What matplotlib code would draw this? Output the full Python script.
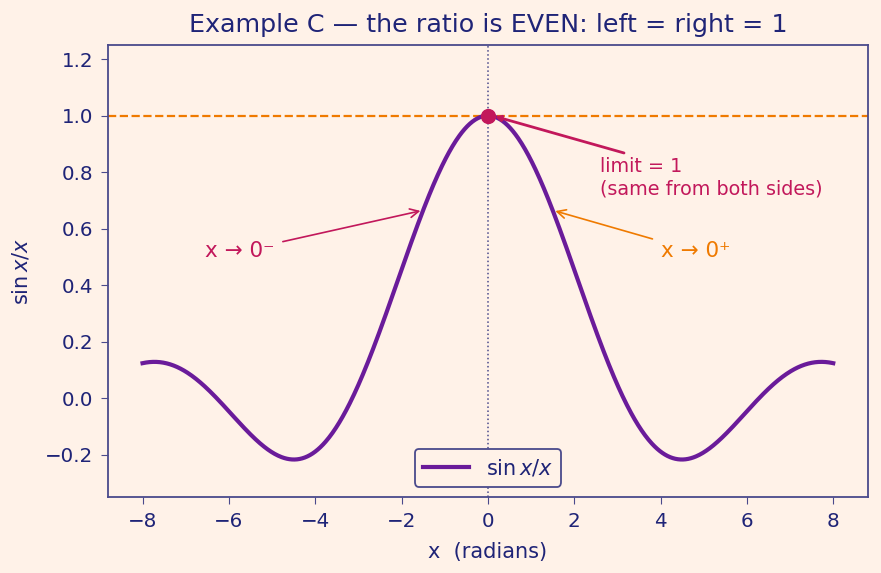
import numpy as np
import matplotlib.pyplot as plt

# chart content
X_RANGE = (-8.0, 8.0)
LIMIT_VALUE = 1.0
LEFT_ARROW_X = -1.5
RIGHT_ARROW_X = 1.5
LEFT_TEXT_POS = (-6.55, 0.52)
RIGHT_TEXT_POS = (4.0, 0.52)
LIMIT_TEXT_POS = (2.6, 0.78)
X_TICKS = [-8, -6, -4, -2, 0, 2, 4, 6, 8]
Y_TICKS = [-0.2, 0.0, 0.2, 0.4, 0.6, 0.8, 1.0, 1.2]

BG = '#FFF2E8'
NAVY = '#1F2477'
SPINE = '#4A4A8C'
PURPLE = '#6A1B9A'
ORANGE = '#EF7A00'
CRIMSON = '#C2185B'


def ratio(x):
    # the plotted function, sin x / x (limit 1 at x = 0)
    return np.sinc(np.asarray(x) / np.pi)


x = np.linspace(X_RANGE[0], X_RANGE[1], 801)
y = ratio(x)

fig, ax = plt.subplots(figsize=(8.81, 5.73), dpi=100)
fig.patch.set_facecolor(BG)
ax.set_facecolor(BG)

ax.axhline(LIMIT_VALUE, color=ORANGE, ls='--', lw=1.6, zorder=1)
ax.axvline(0, color=SPINE, ls=':', lw=1.1, zorder=1)
ax.plot(x, y, color=PURPLE, lw=3, label=r'$\sin x/x$', zorder=3)
ax.plot([0], [LIMIT_VALUE], 'o', color=CRIMSON, ms=10, zorder=5)

ax.annotate('limit = 1\n(same from both sides)', xy=(0.1, LIMIT_VALUE),
            xytext=LIMIT_TEXT_POS, color=CRIMSON, fontsize=13.8,
            ha='left', va='center',
            arrowprops=dict(arrowstyle='-|>', color=CRIMSON, lw=2,
                            mutation_scale=8, shrinkA=4, shrinkB=2))
ax.annotate('x → 0⁻', xy=(LEFT_ARROW_X, ratio(LEFT_ARROW_X)),
            xytext=LEFT_TEXT_POS, color=CRIMSON, fontsize=15.5,
            ha='left', va='center',
            arrowprops=dict(arrowstyle='->', color=CRIMSON, lw=1.2, shrinkA=4))
ax.annotate('x → 0⁺', xy=(RIGHT_ARROW_X, ratio(RIGHT_ARROW_X)),
            xytext=RIGHT_TEXT_POS, color=ORANGE, fontsize=15.5,
            ha='left', va='center',
            arrowprops=dict(arrowstyle='->', color=ORANGE, lw=1.2, shrinkA=4))

ax.set_xlim(-8.8, 8.8)
ax.set_ylim(-0.35, 1.25)
ax.set_xticks(X_TICKS)
ax.set_yticks(Y_TICKS)
ax.set_xticklabels([f'{t:g}'.replace('-', '\u2212') for t in X_TICKS])
ax.set_yticklabels([f'{t:.1f}'.replace('-', '\u2212') for t in Y_TICKS])
ax.tick_params(colors=SPINE, labelcolor=NAVY, labelsize=14.3, length=5, pad=5.5)
for s in ax.spines.values():
    s.set_color(SPINE)
    s.set_linewidth(1.3)

ax.set_xlabel('x  (radians)', color=NAVY, fontsize=15, labelpad=8)
ax.set_ylabel(r'$\sin x/x$', color=NAVY, fontsize=15, labelpad=10)
ax.set_title('Example C — the ratio is EVEN: left = right = 1', color=NAVY,
             fontsize=18.3, pad=9.5)

leg = ax.legend(loc='lower center', fontsize=15, facecolor=BG,
                edgecolor=SPINE, framealpha=1, handlelength=2.2)
for t in leg.get_texts():
    t.set_color(NAVY)
leg.get_frame().set_linewidth(1.3)

fig.subplots_adjust(left=0.1226, right=0.985, top=0.9215, bottom=0.1326)
fig.savefig('out.png', dpi=100, facecolor=BG)
